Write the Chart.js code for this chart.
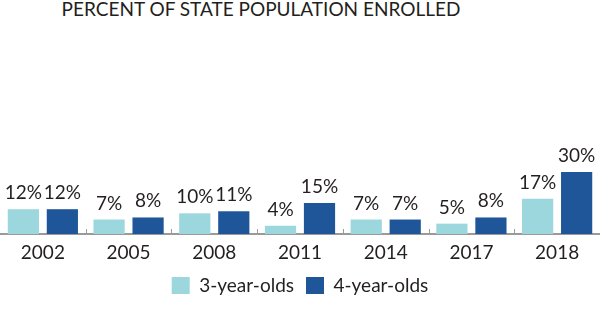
<!DOCTYPE html>
<html>
<head>
<meta charset="utf-8">
<script src="https://cdn.jsdelivr.net/npm/chart.js@4"></script>
<style>
  html, body { margin: 0; padding: 0; background: #fff; }
  #wrap { position: relative; width: 600px; height: 323px; }
  #title {
    position: absolute; top: -3px; left: 0; width: 522px; text-align: center;
    font-family: Lato, sans-serif; font-size: 19px; line-height: 23px; color: #231f20;
  }
  canvas { position: absolute; top: 0; left: 0; }
</style>
</head>
<body>
<div id="wrap">
  <div id="title">PERCENT OF STATE POPULATION ENROLLED</div>
  <canvas id="chart" width="600" height="323"></canvas>
</div>
<script>
// values
const years = ['2002', '2005', '2008', '2011', '2014', '2017', '2018'];
const threeYearOlds = [12, 7, 10, 4, 7, 5, 17];
const fourYearOlds = [12, 8, 11, 15, 7, 8, 30];

const textColor = '#231f20';
const fontFamily = 'Lato, sans-serif';

// percent labels over each bar
const valueLabels = {
    id: 'valueLabels',
    afterDatasetsDraw(chart) {
        const ctx = chart.ctx;
        ctx.save();
        ctx.fillStyle = textColor;
        ctx.font = '19px ' + fontFamily;
        ctx.textAlign = 'center';
        ctx.textBaseline = 'alphabetic';
        chart.data.datasets.forEach((ds, i) => {
            chart.getDatasetMeta(i).data.forEach((bar, j) => {
                ctx.fillText(ds.data[j] + '%', bar.x, bar.y - 10);
            });
        });
        ctx.restore();
    },
};

// short marks between categories, pointing up from the axis
const boundaryTicks = {
    id: 'boundaryTicks',
    afterDraw(chart) {
        const x = chart.scales.x;
        const ctx = chart.ctx;
        const bottom = chart.chartArea.bottom;
        ctx.save();
        ctx.strokeStyle = '#9a9a9a';
        ctx.lineWidth = 1;
        for (let i = 1; i < years.length; i++) {
            const px = Math.round((x.getPixelForTick(i - 1) + x.getPixelForTick(i)) / 2) + 0.5;
            ctx.beginPath();
            ctx.moveTo(px, bottom - 5);
            ctx.lineTo(px, bottom);
            ctx.stroke();
        }
        ctx.restore();
    },
};

new Chart(document.getElementById('chart'), {
    type: 'bar',
    data: {
        labels: years,
        datasets: [
            {
                label: '3-year-olds',
                data: threeYearOlds,
                backgroundColor: '#9bd7dd',
                categoryPercentage: 0.91,
                barPercentage: 0.8,
            },
            {
                label: '4-year-olds',
                data: fourYearOlds,
                backgroundColor: '#1e5699',
                categoryPercentage: 0.91,
                barPercentage: 0.8,
            },
        ],
    },
    options: {
        responsive: false,
        animation: false,
        layout: { padding: { top: 110, left: 0, right: 0, bottom: 18 } },
        plugins: {
            title: { display: false },
            tooltip: { enabled: false },
            legend: {
                position: 'bottom',
                labels: {
                    boxWidth: 18,
                    boxHeight: 17,
                    padding: 12,
                    color: textColor,
                    font: { family: fontFamily, size: 19 },
                },
            },
        },
        scales: {
            x: {
                grid: { display: false, drawTicks: false },
                border: { display: true, color: '#9a9a9a', width: 2 },
                ticks: {
                    color: textColor,
                    padding: 7,
                    font: { family: fontFamily, size: 19 },
                },
                afterFit(scale) {
                    scale.height = 30;
                },
            },
            y: {
                display: false,
                min: 0,
                max: 60,
            },
        },
    },
    plugins: [valueLabels, boundaryTicks],
});
</script>
</body>
</html>
